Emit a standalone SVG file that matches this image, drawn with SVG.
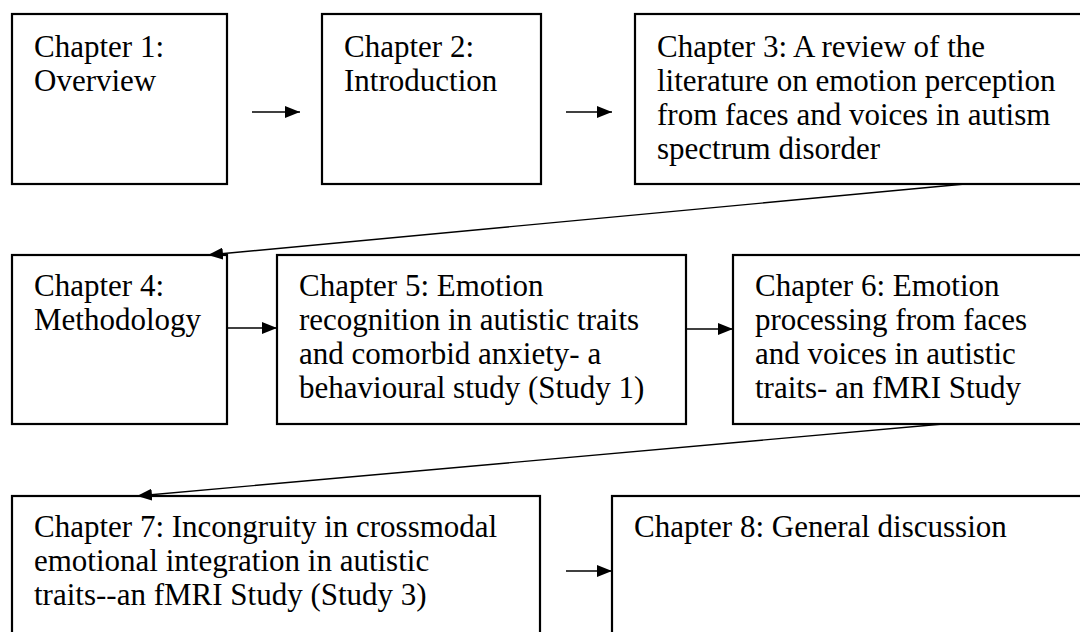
<svg xmlns="http://www.w3.org/2000/svg" width="1080" height="632" viewBox="0 0 1080 632">
<style>
.box{fill:#fff;stroke:#000;stroke-width:2.2}
.t{font-family:"Liberation Serif","Times New Roman",serif;font-size:31px;fill:#000}
.c{stroke:#000;stroke-width:1.4;fill:none}
</style>
<defs>
<marker id="ah" markerWidth="15" markerHeight="12" refX="15" refY="6" orient="auto" markerUnits="userSpaceOnUse">
<path d="M0,0 L15,6 L0,12 Z" fill="#000"/>
</marker>
</defs>
<rect width="1080" height="632" fill="#fff"/>
<g id="ch1"><rect class="box" x="12" y="14" width="215" height="170"/>
<text class="t"><tspan x="34" y="57">Chapter 1:</tspan><tspan x="34" y="91">Overview</tspan></text></g>
<g id="ch2"><rect class="box" x="322" y="14" width="219" height="170"/>
<text class="t"><tspan x="344" y="57">Chapter 2:</tspan><tspan x="344" y="91">Introduction</tspan></text></g>
<g id="ch3"><rect class="box" x="635" y="14" width="460" height="170"/>
<text class="t"><tspan x="657" y="57">Chapter 3: A review of the</tspan><tspan x="657" y="91">literature on emotion perception</tspan><tspan x="657" y="125">from faces and voices in autism</tspan><tspan x="657" y="159">spectrum disorder</tspan></text></g>
<g id="ch4"><rect class="box" x="12" y="255" width="215" height="169"/>
<text class="t"><tspan x="34" y="296">Chapter 4:</tspan><tspan x="34" y="330">Methodology</tspan></text></g>
<g id="ch5"><rect class="box" x="277" y="255" width="409" height="169"/>
<text class="t"><tspan x="299" y="296">Chapter 5: Emotion</tspan><tspan x="299" y="330">recognition in autistic traits</tspan><tspan x="299" y="364">and comorbid anxiety- a</tspan><tspan x="299" y="398">behavioural study (Study 1)</tspan></text></g>
<g id="ch6"><rect class="box" x="733" y="255" width="360" height="169"/>
<text class="t"><tspan x="755" y="296">Chapter 6: Emotion</tspan><tspan x="755" y="330">processing from faces</tspan><tspan x="755" y="364">and voices in autistic</tspan><tspan x="755" y="398">traits- an fMRI Study</tspan></text></g>
<g id="ch7"><rect class="box" x="12" y="496" width="528" height="150"/>
<text class="t"><tspan x="34" y="537">Chapter 7: Incongruity in crossmodal</tspan><tspan x="34" y="571">emotional integration in autistic</tspan><tspan x="34" y="605">traits--an fMRI Study (Study 3)</tspan></text></g>
<g id="ch8"><rect class="box" x="612" y="496" width="480" height="150"/>
<text class="t"><tspan x="634" y="537">Chapter 8: General discussion</tspan></text></g>
<g id="connectors">
<line class="c" x1="252" y1="112" x2="300" y2="112" marker-end="url(#ah)"/>
<line class="c" x1="566" y1="112" x2="612" y2="112" marker-end="url(#ah)"/>
<line class="c" x1="965" y1="184" x2="208" y2="255" marker-end="url(#ah)"/>
<line class="c" x1="227" y1="328" x2="277" y2="328" marker-end="url(#ah)"/>
<line class="c" x1="686" y1="329" x2="733" y2="329" marker-end="url(#ah)"/>
<line class="c" x1="943" y1="424" x2="137" y2="496" marker-end="url(#ah)"/>
<line class="c" x1="566" y1="571" x2="612" y2="571" marker-end="url(#ah)"/>
</g>
</svg>
